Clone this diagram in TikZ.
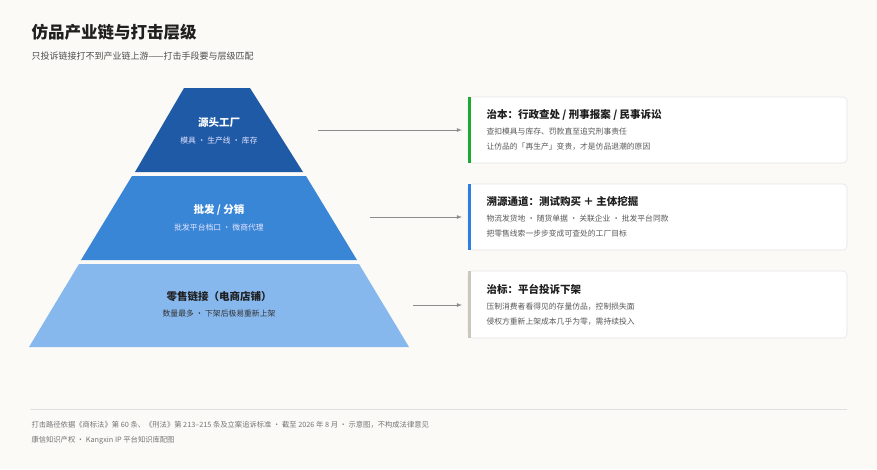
\documentclass[tikz,border=0pt]{standalone}
\usepackage{fontspec}
\setmainfont{Noto Sans CJK SC}
\begin{document}
\begin{tikzpicture}[x=1pt,y=-1pt,
 card/.style={draw=black!10,fill=white,rounded corners=4pt,line width=0.6pt},
 arr/.style={draw=black!45,line width=0.8pt,-latex},
 ct/.style={anchor=west,font=\fontsize{10.5}{12}\selectfont\bfseries,text=black!88},
 cs/.style={anchor=west,font=\fontsize{7.8}{9}\selectfont,text=black!65},
 pt/.style={font=\fontsize{10.5}{12}\selectfont\bfseries},
 ps/.style={font=\fontsize{7.8}{9}\selectfont}]
\fill[fill={rgb,255:red,251;green,250;blue,247}] (0,0) rectangle (877,469);
\node[anchor=west,font=\fontsize{16.5}{18}\selectfont\bfseries,text=black!88] (title) at (28,32) {仿品产业链与打击层级};
\node[anchor=west,font=\fontsize{9}{10}\selectfont,text=black!70] (sub) at (28,56) {只投诉链接打不到产业链上游——打击手段要与层级匹配};
% pyramid
\fill[fill={rgb,255:red,31;green,90;blue,166}] (184,88) -- (250,88) -- (303,172) -- (135,172) -- cycle;
\fill[fill={rgb,255:red,58;green,134;blue,214}] (132,176) -- (306,176) -- (357,260) -- (81,260) -- cycle;
\fill[fill={rgb,255:red,134;green,184;blue,238}] (79,264) -- (359,264) -- (409,347) -- (29,347) -- cycle;
\node[pt,text=white] (t1) at (219,123) {源头工厂};
\node[ps,text=white!90!blue] (s1) at (219,141) {模具 · 生产线 · 库存};
\node[pt,text=white] (t2) at (219,210) {批发 / 分销};
\node[ps,text=white!90!blue] (s2) at (219,228) {批发平台档口 · 微商代理};
\node[pt,text=black!88] (t3) at (219,297) {零售链接（电商店铺）};
\node[ps,text=black!80] (s3) at (219,314) {数量最多 · 下架后极易重新上架};
% cards
\draw[card] (468,97) rectangle (847,163);
\draw[card] (468,184) rectangle (847,250);
\draw[card] (468,271) rectangle (847,338);
\fill[fill={rgb,255:red,30;green,170;blue,50}] (468,97) rectangle (471,163);
\fill[fill={rgb,255:red,47;green,127;blue,222}] (468,184) rectangle (471,250);
\fill[fill={rgb,255:red,200;green,200;blue,188}] (468,271) rectangle (471,338);
\coordinate (c1) at (462,130); \coordinate (c2) at (462,217); \coordinate (c3) at (462,305);
\coordinate (a1) at (318,130); \coordinate (a2) at (370,217); \coordinate (a3) at (413,305);
\draw[arr] (a1) -- (c1); \draw[arr] (a2) -- (c2); \draw[arr] (a3) -- (c3);
\node[ct] (k1) at (483,115) {治本：行政查处 / 刑事报案 / 民事诉讼};
\node[cs] (k1a) at (483,132) {查扣模具与库存、罚款直至追究刑事责任};
\node[cs] (k1b) at (483,147) {让仿品的「再生产」变贵，才是仿品退潮的原因};
\node[ct] (k2) at (483,202) {溯源通道：测试购买 ＋ 主体挖掘};
\node[cs] (k2a) at (483,219) {物流发货地 · 随货单据 · 关联企业 · 批发平台同款};
\node[cs] (k2b) at (483,234) {把零售线索一步步变成可查处的工厂目标};
\node[ct] (k3) at (483,289) {治标：平台投诉下架};
\node[cs] (k3a) at (483,307) {压制消费者看得见的存量仿品，控制损失面};
\node[cs] (k3b) at (483,322) {侵权方重新上架成本几乎为零，需持续投入};
% footer
\draw[black!12,line width=0.6pt] (30,409) -- (847,409);
\node[anchor=west,font=\fontsize{7.3}{8}\selectfont,text=black!55] (f1) at (28,425) {打击路径依据《商标法》第 60 条、《刑法》第 213–215 条及立案追诉标准 · 截至 2026 年 8 月 · 示意图，不构成法律意见};
\node[anchor=west,font=\fontsize{7.3}{8}\selectfont,text=black!55] (f2) at (28,440) {康信知识产权 · Kangxin IP 平台知识库配图};
\end{tikzpicture}
\end{document}
